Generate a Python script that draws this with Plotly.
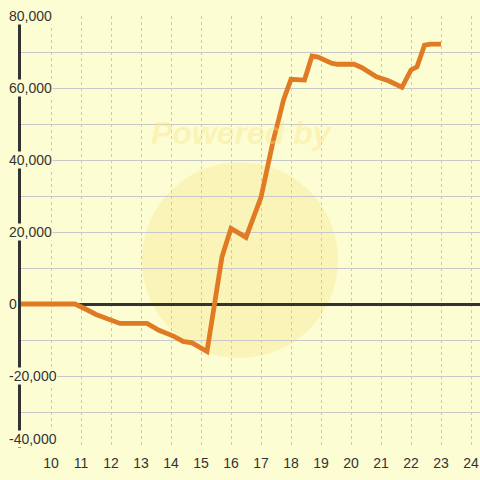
import plotly.graph_objects as go

# Data
hours = [9, 10.8, 11.2, 11.5, 12.3, 13.2, 13.6, 14.1, 14.4, 14.7, 15.2, 15.7, 16.0, 16.5,
         17.0, 17.2, 17.4, 17.6, 17.75, 18.0, 18.45, 18.7, 18.9, 19.35, 19.55, 20.1, 20.35,
         20.85, 21.25, 21.7, 22.0, 22.2, 22.45, 22.65, 23.0]
values = [0, 0, -1600, -2900, -5400, -5400, -7300, -9000, -10400, -10800, -13200, 13100,
          21000, 18500, 29600, 38100, 45100, 51600, 56700, 62400, 62200, 68900, 68600,
          66900, 66600, 66600, 65700, 63100, 62000, 60200, 65000, 65900, 71900, 72200, 72200]

x_ticks = list(range(10, 25))
y_grid = list(range(-40000, 80001, 10000))
y_label_vals = list(range(-40000, 80001, 20000))
y_label_text = [f"{v:,}" for v in y_label_vals]

BG = "#fdfdd4"
GRID = "#c8c8c8"
INK = "#333333"
FONT = "Liberation Sans, Arial, sans-serif"

fig = go.Figure()
fig.add_trace(go.Scatter(
    x=hours, y=values, mode="lines",
    line=dict(color="#e07b24", width=4.8),
    hoverinfo="skip", showlegend=False,
))

# watermark
fig.add_shape(type="circle", xref="x", yref="y", x0=13.03, x1=19.57, y0=-15000, y1=39400,
              fillcolor="rgba(250,225,120,0.3)", line=dict(width=0), layer="below")
fig.add_annotation(text="<b><i>Powered by</i></b>", xref="x", yref="y", x=16.35, y=47500,
                   showarrow=False, font=dict(family=FONT, size=32, color="rgba(250,228,130,0.4)"))

y_min = min(y_label_vals)
for v, t in zip(y_label_vals, y_label_text):
    fig.add_annotation(text=t, xref="paper", yref="y", x=-0.0283, y=v, xanchor="left",
                       yanchor="bottom" if v == y_min else "middle",
                       showarrow=False, bgcolor=BG, borderpad=0,
                       font=dict(family=FONT, size=14, color=INK))

fig.update_layout(
    width=480, height=480,
    margin=dict(l=21, r=0, t=16, b=32),
    paper_bgcolor=BG, plot_bgcolor=BG,
    font=dict(family=FONT, size=14, color=INK),
    xaxis=dict(range=[9, 24.3], tickvals=x_ticks, showgrid=True, gridcolor=GRID,
               griddash="3px,3px", gridwidth=1, zeroline=False, showline=False,
               ticks="outside", ticklen=2, tickcolor="rgba(0,0,0,0)",
               tickfont=dict(family=FONT, size=14, color=INK), fixedrange=True),
    yaxis=dict(range=[-40000, 80000], tickvals=y_grid, showticklabels=False,
               showgrid=True, gridcolor=GRID, gridwidth=1,
               zeroline=True, zerolinecolor=INK, zerolinewidth=3,
               showline=True, linecolor=INK, linewidth=3, ticks="", fixedrange=True),
)

fig.write_html("out.html", config={"displayModeBar": False},
               post_script="document.body.style.margin='0';")
